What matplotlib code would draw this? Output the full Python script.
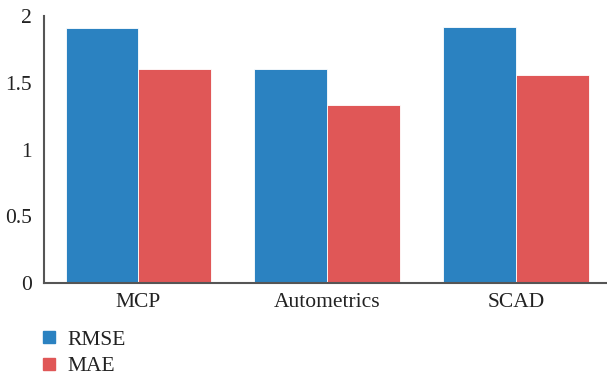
import numpy as np
import matplotlib
matplotlib.use('Agg')
import matplotlib.pyplot as plt
from matplotlib.lines import Line2D

# data
methods = ["MCP", "Autometrics", "SCAD"]
rmse = [1.91, 1.60, 1.92]
mae = [1.60, 1.33, 1.56]

plt.rcParams['font.family'] = ['Liberation Serif', 'DejaVu Serif']

BLUE = "#2B82C1"
RED = "#E05757"

fig = plt.figure(figsize=(6.07, 3.79), dpi=100)
ax = fig.add_axes([0.0725, 0.253, 0.9275, 0.705])

x = np.arange(len(methods))
w = 0.386
ax.bar(x - w / 2, rmse, width=w, color=BLUE, edgecolor='white', linewidth=0.6, label="RMSE")
ax.bar(x + w / 2, mae, width=w, color=RED, edgecolor='white', linewidth=0.6, label="MAE")

ax.set_xlim(-0.5, 2.48)
ax.set_ylim(0, 2)
ax.set_yticks([0, 0.5, 1, 1.5, 2])
ax.set_yticklabels(["0", "0.5", "1", "1.5", "2"])
ax.set_xticks(x)
ax.set_xticklabels(methods)
ax.tick_params(axis='both', length=0, labelsize=15.5, colors='#222222')
ax.tick_params(axis='x', pad=7)
ax.tick_params(axis='y', pad=9)

for s in ['top', 'right']:
    ax.spines[s].set_visible(False)
for s in ['left', 'bottom']:
    ax.spines[s].set_color('#555555')
    ax.spines[s].set_linewidth(1.5)

handles = [
    Line2D([], [], marker='s', linestyle='none', markersize=8, color=BLUE, label="RMSE"),
    Line2D([], [], marker='s', linestyle='none', markersize=8, color=RED, label="MAE"),
]
fig.legend(handles=handles, loc='upper left', bbox_to_anchor=(0.072, 0.13),
           frameon=False, fontsize=15.5, handlelength=0.5, handletextpad=0.6,
           labelspacing=0.3, borderpad=0, borderaxespad=0, labelcolor='#222222')

fig.savefig("out.png", dpi=100)
